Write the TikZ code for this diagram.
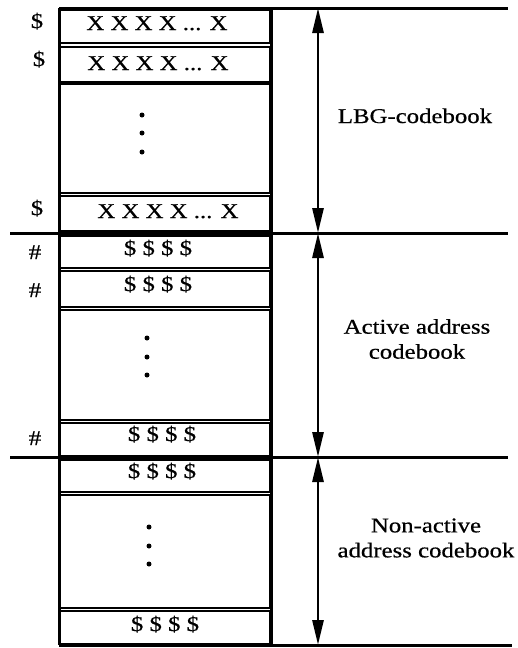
\documentclass[tikz,border=0pt]{standalone}
\usepackage{fontspec}
\setmainfont{Liberation Serif}[FakeStretch=1.18,FakeBold=0.6]
\usetikzlibrary{arrows.meta}
\begin{document}
\begin{tikzpicture}[x=1pt,y=-1pt,
  cell/.style={draw, line width=1.8pt, inner sep=0pt, outer sep=0pt, minimum width=210pt},
  txt/.style={inner sep=0pt, anchor=base, font=\fontsize{21}{25}\selectfont},
  lbl/.style={inner sep=0pt, align=center, font=\fontsize{21}{25}\selectfont},
  rule/.style={line width=3pt},
  dim/.style={line width=2.8pt, {Triangle[length=25pt,width=11pt]}-{Triangle[length=25pt,width=11pt]}},
  pt/.style={circle, fill, inner sep=0pt, minimum size=5pt}]
\useasboundingbox (0,0) rectangle (517,648);
% cells
\node[cell, minimum height=33pt]  (c1)  at (165,26.5) {};
\node[cell, minimum height=35pt]  (c2)  at (165,64.5) {};
\node[cell, minimum height=109pt] (c3)  at (165,138.5) {};
\node[cell, minimum height=35pt]  (c4)  at (165,213.5) {};
\node[cell, minimum height=32pt]  (c5)  at (165,252) {};
\node[cell, minimum height=36pt]  (c6)  at (165,289) {};
\node[cell, minimum height=110pt] (c7)  at (165,365) {};
\node[cell, minimum height=33pt]  (c8)  at (165,439.5) {};
\node[cell, minimum height=32pt]  (c9)  at (165,476) {};
\node[cell, minimum height=113pt] (c10) at (165,551.5) {};
\node[cell, minimum height=33pt]  (c11) at (165,627.5) {};
% frame coordinates
\coordinate (tl) at (59,8);   \coordinate (tr) at (508,8);
\coordinate (s1l) at (10,233); \coordinate (s1r) at (508,233);
\coordinate (s2l) at (10,457); \coordinate (s2r) at (508,457);
\coordinate (bl) at (59,645); \coordinate (br) at (512,645);
\coordinate (vl0) at (59,8);  \coordinate (vl1) at (59,645);
\coordinate (vr0) at (271,8); \coordinate (vr1) at (271,645);
\coordinate (a0) at (318,8);  \coordinate (a1) at (318,233);
\coordinate (a2) at (318,457); \coordinate (a3) at (318,645);
\draw[rule] (tl) -- (tr);
\draw[rule] (s1l) -- (s1r);
\draw[rule] (s2l) -- (s2r);
\draw[rule] (bl) -- (br);
\draw[rule] (vl0) -- (vl1);
\draw[rule] (vr0) -- (vr1);
% dimension arrows
\draw[dim] (a0) -- (a1);
\draw[dim] (a1) -- (a2);
\draw[dim] (a2) -- (a3);
% cell texts
\node[txt] (t1)  at (157,30)  {X X X X ... X};
\node[txt] (t2)  at (158,70)  {X X X X ... X};
\node[txt] (t4)  at (168,218) {X X X X ... X};
\node[txt] (t5)  at (158,255) {\$ \$ \$ \$};
\node[txt] (t6)  at (158,291) {\$ \$ \$ \$};
\node[txt] (t8)  at (162,441) {\$ \$ \$ \$};
\node[txt] (t9)  at (162,478) {\$ \$ \$ \$};
\node[txt] (t11) at (165,631) {\$ \$ \$ \$};
% left marks
\node[txt] (m1) at (37,28)  {\$};
\node[txt] (m2) at (39,66)  {\$};
\node[txt] (m4) at (37,215) {\$};
\node[txt] (m5) at (35,259) {\#};
\node[txt] (m6) at (35,297) {\#};
\node[txt] (m8) at (35,445) {\#};
% dots
\node[pt] (d31) at (142,115) {}; \node[pt] (d32) at (142,133) {}; \node[pt] (d33) at (142,152) {};
\node[pt] (d71) at (147,338) {}; \node[pt] (d72) at (147,357) {}; \node[pt] (d73) at (147,375) {};
\node[pt] (d101) at (149,527) {}; \node[pt] (d102) at (149,546) {}; \node[pt] (d103) at (149,564) {};
% section labels
\node[txt] (L1) at (415,123) {LBG-codebook};
\node[lbl] (L2) at (417,339) {Active address\\codebook};
\node[lbl] (L3) at (426,538) {Non-active\\address codebook};
\end{tikzpicture}
\end{document}
